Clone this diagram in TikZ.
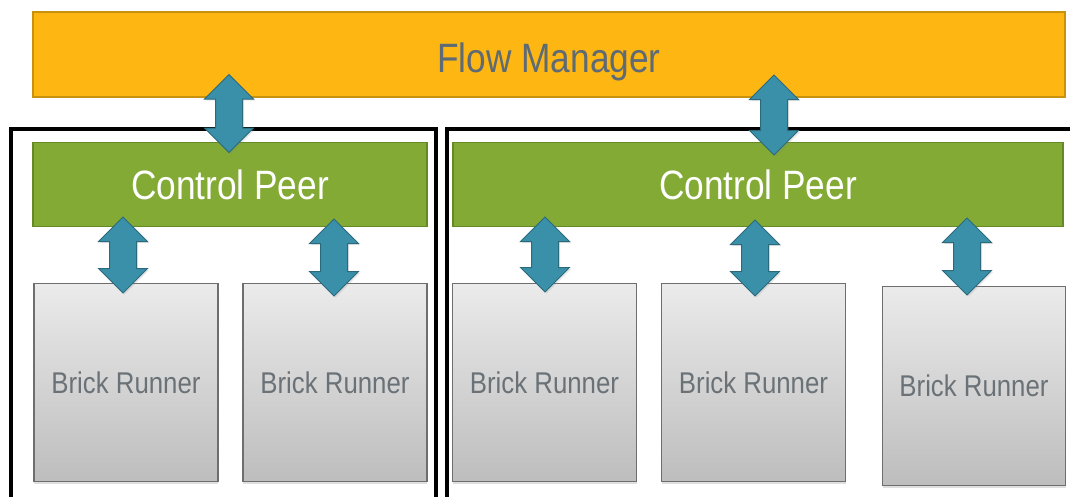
\documentclass[tikz,border=0pt]{standalone}
\usepackage{fontspec}
\setmainfont[FakeStretch=0.86]{Liberation Sans}
\usetikzlibrary{shapes.arrows,shadows}
\definecolor{fmfill}{HTML}{FDB612}
\definecolor{fmline}{HTML}{C8920E}
\definecolor{fmtext}{HTML}{5E6A74}
\definecolor{cpfill}{HTML}{83AA34}
\definecolor{cpline}{HTML}{648A26}
\definecolor{brtop}{HTML}{EBEBEB}
\definecolor{brbot}{HTML}{BDBDBD}
\definecolor{brline}{HTML}{6E6E6E}
\definecolor{brtext}{HTML}{6A7277}
\definecolor{arfill}{HTML}{3A90A8}
\definecolor{arline}{HTML}{2A6A7C}
\tikzset{
  fmbox/.style={draw=fmline, line width=1.5pt, fill=fmfill, inner sep=0pt, text=fmtext,
    font=\fontsize{41}{41}\selectfont, text height=38pt, text depth=3pt},
  cpbox/.style={draw=cpline, line width=1.5pt, fill=cpfill, inner sep=0pt, text=white,
    font=\fontsize{41}{41}\selectfont},
  brbox/.style={draw=brline, line width=1.2pt, top color=brtop, bottom color=brbot,
    inner sep=0pt, text=brtext, font=\fontsize{30}{30}\selectfont,
    drop shadow={shadow xshift=0pt, shadow yshift=-2pt, opacity=0.25}},
  frame/.style={draw=black, line width=4pt},
  dblarrow/.style={double arrow, rotate=90, draw=arline, line width=1pt, fill=arfill,
    inner xsep=0pt, inner ysep=13pt, double arrow head extend=11pt, minimum height=#1,
    drop shadow={shadow xshift=1.5pt, shadow yshift=-1.5pt, opacity=0.2}},
}
\begin{document}
\begin{tikzpicture}[x=1pt,y=-1pt]
\useasboundingbox (0,0) rectangle (1070,496);
% frames
\draw[frame] (11,520) -- (11,129) -- (436,129) -- (436,520);
\draw[frame] (447,520) -- (447,129) -- (1080,129);
% boxes
\node[fmbox, minimum width=1032pt, minimum height=85pt] (fm) at (549,54.5) {Flow Manager};
\node[cpbox, minimum width=394pt, minimum height=84pt] (cp1) at (230,184.5) {Control Peer};
\node[cpbox, minimum width=610pt, minimum height=84pt] (cp2) at (758,184.5) {Control Peer};
\node[brbox, minimum width=184pt, minimum height=198pt] (br1) at (126,382.5) {Brick Runner};
\node[brbox, minimum width=184pt, minimum height=198pt] (br2) at (335,382.5) {Brick Runner};
\node[brbox, minimum width=184pt, minimum height=198pt] (br3) at (544.5,382.5) {Brick Runner};
\node[brbox, minimum width=184pt, minimum height=198pt] (br4) at (753.5,382.5) {Brick Runner};
\node[brbox, minimum width=183pt, minimum height=199pt] (br5) at (974,386) {Brick Runner};
% arrows
\node[dblarrow=78pt] (a1) at (229,113.5) {};
\node[dblarrow=80pt] (a2) at (774,115) {};
\node[dblarrow=76pt] (a3) at (123,255) {};
\node[dblarrow=77pt] (a4) at (334,257.5) {};
\node[dblarrow=75pt] (a5) at (545,254.5) {};
\node[dblarrow=76pt] (a6) at (755,258) {};
\node[dblarrow=77pt] (a7) at (967,256.5) {};
\end{tikzpicture}
\end{document}
